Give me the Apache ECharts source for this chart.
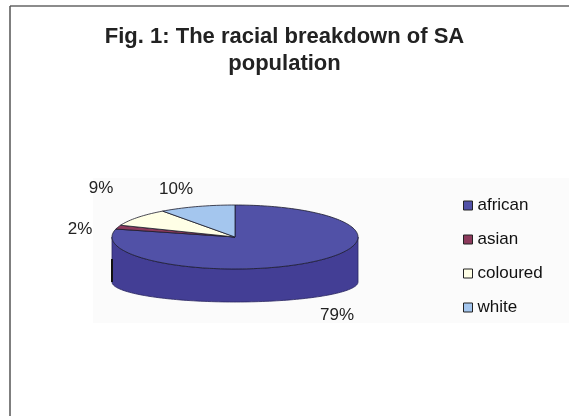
<!DOCTYPE html>
<html><head><meta charset="utf-8">
<script src="https://cdn.jsdelivr.net/npm/echarts@6/dist/echarts.min.js"></script>
<style>html,body{margin:0;padding:0;background:#fff}#c{width:569px;height:416px}</style>
</head><body><div id="c"></div>
<script>
// ---- data ----
const categories = ['african', 'asian', 'coloured', 'white'];
const values = [79, 2, 9, 10];
const titleText = 'Fig. 1: The racial breakdown of SA\npopulation';

// ---- styling / layout ----
const topColors = ['#5151A7', '#8C3A5C', '#FFFFE6', '#A4C6EE'];
const sideColors = ['#433E95', '#6A2A45', '#CCCCB0', '#7F9FC8'];
const labelPos = [[337, 315], [80, 229], [101, 188], [176, 189]];
const PIE = {cx: 235, cy: 237, rx: 123, ry: 32, depth: 45, bry: 20};
const FONT = 'Liberation Sans, Arial, sans-serif';

const total = values.reduce((a, b) => a + b, 0);
const starts = [];
let acc = -Math.PI / 2;
values.forEach(v => { starts.push(acc); acc += v / total * 2 * Math.PI; });

function pt(a, bottom) {
  return [PIE.cx + PIE.rx * Math.cos(a),
          bottom ? PIE.cy + PIE.depth + PIE.bry * Math.sin(a) : PIE.cy + PIE.ry * Math.sin(a)];
}
function arc(a0, a1, bottom) {
  const n = Math.max(4, Math.ceil((a1 - a0) / 0.03));
  const out = [];
  for (let k = 0; k <= n; k++) out.push(pt(a0 + (a1 - a0) * k / n, bottom));
  return out;
}

function makeRender(i) {
  return function (params, api) {
    const v = api.value(0);
    const s = starts[i], e = s + v / total * 2 * Math.PI;
    const children = [];
    for (const k of [-2 * Math.PI, 0, 2 * Math.PI]) {
      const a0 = Math.max(s, k), a1 = Math.min(e, k + Math.PI);
      if (a1 > a0) {
        const pts = arc(a0, a1, false).concat(arc(a0, a1, true).reverse());
        children.push({type: 'polygon', shape: {points: pts},
          style: {fill: sideColors[i], stroke: '#2a2660', lineWidth: 0.8}});
        if (a1 >= Math.PI + k - 1e-6) {
          const p0 = pt(a1, false), p1 = pt(a1, true);
          children.push({type: 'line', shape: {x1: p0[0], y1: p0[1] + 22, x2: p1[0], y2: p1[1]},
            style: {stroke: '#111', lineWidth: 2}});
        }
      }
    }
    const topPts = [[PIE.cx, PIE.cy]].concat(arc(s, e, false));
    children.push({type: 'polygon', shape: {points: topPts},
      style: {fill: api.visual('color'), stroke: '#1c1c2c', lineWidth: 0.8}});
    children.push({type: 'text', x: labelPos[i][0], y: labelPos[i][1],
      style: {text: Math.round(v / total * 100) + '%', align: 'center', verticalAlign: 'middle',
              fontSize: 17, fontFamily: FONT, fill: '#222'}});
    return {type: 'group', children: children};
  };
}

const chart = echarts.init(document.getElementById('c'), null, {renderer: 'canvas'});
chart.setOption({
  animation: false,
  backgroundColor: '#fff',
  color: topColors,
  title: {
    text: titleText, left: 'center', top: 18,
    textStyle: {fontFamily: FONT, fontSize: 22, fontWeight: 'bold', color: '#222', lineHeight: 27}
  },
  legend: {
    orient: 'vertical', left: 458, top: 192, itemWidth: 9, itemHeight: 9, itemGap: 17,
    icon: 'rect', data: categories,
    itemStyle: {borderColor: '#222', borderWidth: 1},
    textStyle: {fontFamily: FONT, fontSize: 17, lineHeight: 17, color: '#111'}
  },
  graphic: [
    {type: 'rect', shape: {x: 93, y: 178, width: 476, height: 145}, style: {fill: '#fbfbfb'}, z: -10},
    {type: 'line', shape: {x1: 10, y1: 6, x2: 569, y2: 6}, style: {stroke: '#666', lineWidth: 1.5}},
    {type: 'line', shape: {x1: 10, y1: 6, x2: 10, y2: 416}, style: {stroke: '#555', lineWidth: 1.5}}
  ],
  series: categories.map((name, i) => ({
    type: 'custom', name: name, coordinateSystem: 'none',
    data: [[values[i]]], renderItem: makeRender(i)
  }))
});
</script>
</body></html>
